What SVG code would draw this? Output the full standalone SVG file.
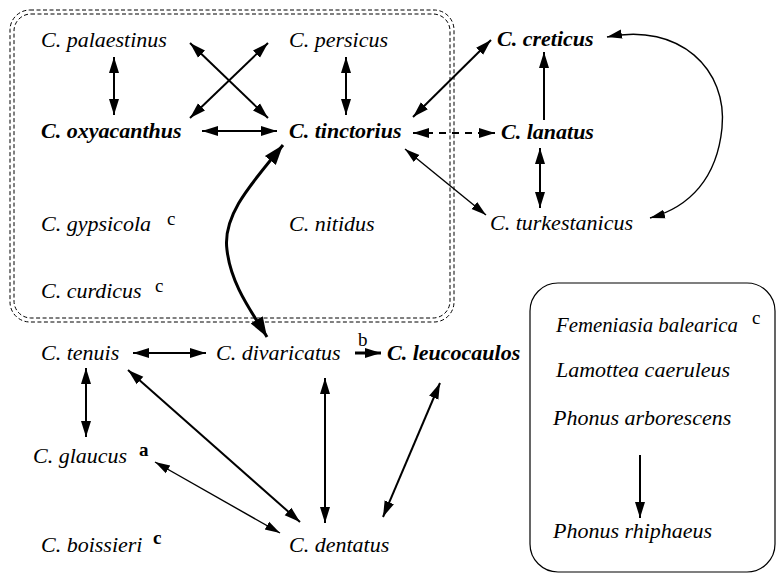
<svg xmlns="http://www.w3.org/2000/svg" width="776" height="575" viewBox="0 0 776 575">
<style>
text{font-family:"Liberation Serif","Times New Roman",serif;font-size:22px;fill:#000}
.i{font-style:italic}
.b{font-weight:bold}
.sup{font-size:19px}
.e{stroke:#000;stroke-width:2;fill:none;marker-start:url(#ah);marker-end:url(#ah)}
.t{stroke-width:1.4}
.one{marker-start:none}
.dash{stroke-dasharray:7,6}
.box{fill:none;stroke:#000;stroke-width:1;stroke-dasharray:4,2.5}
</style>
<defs>
<marker id="ah" markerUnits="userSpaceOnUse" markerWidth="16" markerHeight="12" viewBox="0 0 16 12" refX="16" refY="6" orient="auto-start-reverse"><path d="M0,1 L16,6 L0,11 z" fill="#000"/></marker>
<marker id="ahs" markerUnits="userSpaceOnUse" markerWidth="15" markerHeight="11" viewBox="0 0 15 11" refX="15" refY="5.5" orient="auto-start-reverse"><path d="M0,1 L15,5.5 L0,10 z" fill="#000"/></marker>
<marker id="ahb" markerUnits="userSpaceOnUse" markerWidth="20" markerHeight="16" viewBox="0 0 20 16" refX="20" refY="8" orient="auto-start-reverse"><path d="M0,1 L20,8 L0,15 z" fill="#000"/></marker>
</defs>
<g id="group-box">
<rect class="box" x="10" y="10" width="444" height="312" rx="20"/>
<rect class="box" x="14" y="14" width="436" height="304" rx="17"/>
</g>
<g id="other-box">
<rect x="530" y="283" width="245" height="289" rx="28" fill="none" stroke="#000" stroke-width="1.2"/>
</g>
<g id="connectors">
<line class="e" x1="114" y1="57" x2="114" y2="115"/>
<line class="e" x1="190" y1="43" x2="268" y2="118"/>
<line class="e" x1="190" y1="118" x2="268" y2="43"/>
<line class="e" x1="346" y1="57" x2="346" y2="115"/>
<line class="e" x1="202" y1="131" x2="277" y2="131"/>
<line class="e" x1="413" y1="117" x2="491" y2="40"/>
<line class="e dash" x1="413" y1="133" x2="495" y2="133"/>
<line class="e t" style="marker-start:url(#ahs);marker-end:url(#ahs)" x1="405" y1="149" x2="486" y2="215"/>
<line class="e one" x1="544" y1="120" x2="544" y2="52"/>
<line class="e" x1="540" y1="148" x2="540" y2="208"/>
<path class="e t" style="marker-start:url(#ahs);marker-end:url(#ahs)" d="M607,37 C680,22 728,70 722,128 C717,178 690,207 650,218"/>
<path class="e" style="stroke-width:3;marker-start:url(#ahb);marker-end:url(#ahb)" d="M283,145 C252,183 222,215 227,250 C231,285 252,312 267,337"/>
<line class="e" x1="133" y1="353" x2="206" y2="353"/>
<line class="e one" style="stroke-width:3" x1="355" y1="353" x2="381" y2="353"/>
<line class="e" x1="86" y1="368" x2="86" y2="437"/>
<line class="e" x1="128" y1="370" x2="300" y2="522"/>
<line class="e t" style="marker-start:url(#ahs);marker-end:url(#ahs)" x1="155" y1="462" x2="280" y2="533"/>
<line class="e" x1="325" y1="378" x2="325" y2="523"/>
<line class="e" x1="440" y1="383" x2="383" y2="517"/>
<line class="e one" x1="640" y1="455" x2="640" y2="518"/>
</g>
<g id="n-palaestinus"><text class="i" x="41" y="47">C. palaestinus</text></g>
<g id="n-persicus"><text class="i" x="289" y="47">C. persicus</text></g>
<g id="n-oxyacanthus"><text class="i b" x="41" y="138">C. oxyacanthus</text></g>
<g id="n-tinctorius"><text class="i b" x="289" y="138">C. tinctorius</text></g>
<g id="n-gypsicola"><text class="i" x="41" y="231">C. gypsicola</text><text class="sup" x="167" y="225">c</text></g>
<g id="n-nitidus"><text class="i" x="289" y="231">C. nitidus</text></g>
<g id="n-curdicus"><text class="i" x="41" y="298">C. curdicus</text><text class="sup" x="155" y="292">c</text></g>
<g id="n-creticus"><text class="i b" x="497" y="46">C. creticus</text></g>
<g id="n-lanatus"><text class="i b" x="501" y="139">C. lanatus</text></g>
<g id="n-turkestanicus"><text class="i" x="490" y="230">C. turkestanicus</text></g>
<g id="n-tenuis"><text class="i" x="41" y="360">C. tenuis</text></g>
<g id="n-divaricatus"><text class="i" x="216" y="360">C. divaricatus</text><text class="sup" x="358" y="346">b</text></g>
<g id="n-leucocaulos"><text class="i b" x="387" y="360">C. leucocaulos</text></g>
<g id="n-glaucus"><text class="i" x="33" y="463">C. glaucus</text><text class="sup b" x="139" y="456">a</text></g>
<g id="n-boissieri"><text class="i" x="41" y="552">C. boissieri</text><text class="sup b" x="153" y="544">c</text></g>
<g id="n-dentatus"><text class="i" x="289" y="552">C. dentatus</text></g>
<g id="n-femeniasia"><text class="i" x="556" y="332" textLength="182" lengthAdjust="spacingAndGlyphs">Femeniasia balearica</text><text class="sup" x="752" y="324">c</text></g>
<g id="n-lamottea"><text class="i" x="556" y="377">Lamottea caeruleus</text></g>
<g id="n-phonus-arb"><text class="i" x="553" y="425">Phonus arborescens</text></g>
<g id="n-phonus-rhi"><text class="i" x="553" y="538">Phonus rhiphaeus</text></g>
</svg>
